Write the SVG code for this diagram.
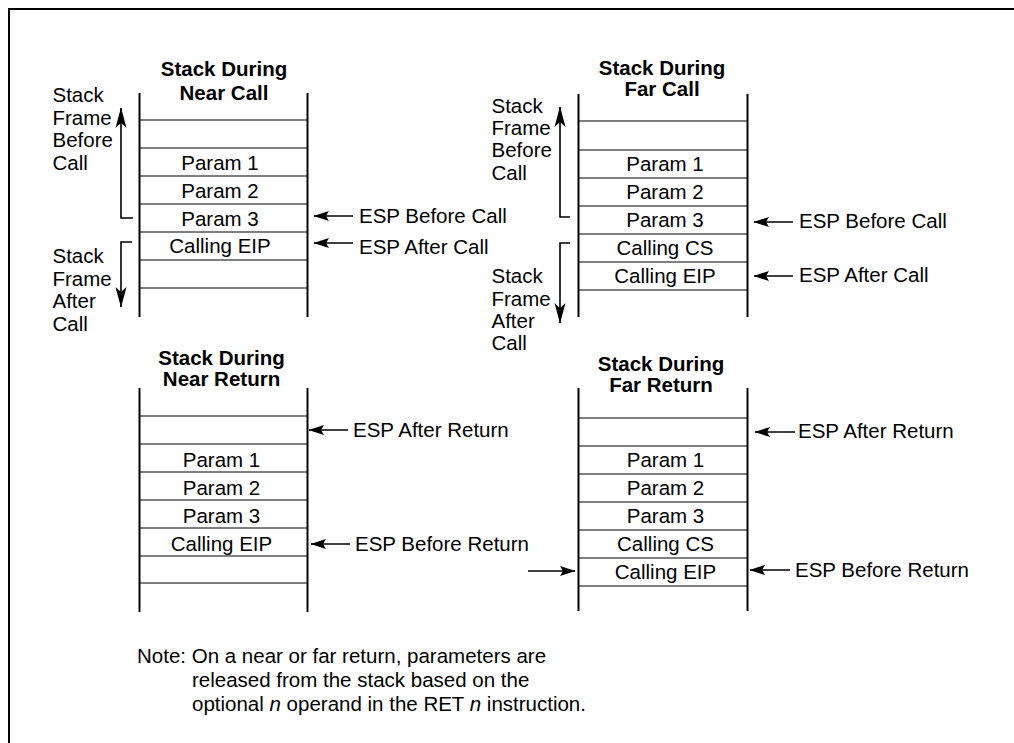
<svg xmlns="http://www.w3.org/2000/svg" width="1014" height="743" viewBox="0 0 1014 743">
<style>
.t{font-family:"Liberation Sans",Arial,Helvetica,sans-serif;font-size:20.5px;fill:#000}
.b{font-weight:bold}
.c{text-anchor:middle}
.col{stroke:#000;stroke-width:2;fill:none}
.row{stroke:#000;stroke-width:1.2;fill:none}
.ah{stroke:#000;stroke-width:1.3;fill:none;marker-end:url(#mh)}
.av{stroke:#000;stroke-width:1.6;fill:none;marker-end:url(#mv)}
</style>
<defs>
<marker id="mh" markerUnits="userSpaceOnUse" viewBox="-16 -6 17 12" refX="0" refY="0" markerWidth="17" markerHeight="12" orient="auto"><path d="M0.5,0 L-15,-5 L-12,0 L-15,5 Z" fill="#000"/></marker>
<marker id="mv" markerUnits="userSpaceOnUse" viewBox="-21 -7 22 14" refX="0" refY="0" markerWidth="22" markerHeight="14" orient="auto"><path d="M0.5,0 L-20,-5.5 L-15,0 L-20,5.5 Z" fill="#000"/></marker>
</defs>
<rect width="1014" height="743" fill="#fff"/>
<rect x="9" y="9" width="1010" height="740" fill="none" stroke="#000" stroke-width="2"/>

<g id="near-call">
<text class="t b c" x="224" y="76">Stack During</text>
<text class="t b c" x="224" y="100">Near Call</text>
<path class="col" d="M139.5,93 V317 M307.5,93 V317"/>
<path class="row" d="M139,120 H308 M139,148 H308 M139,176 H308 M139,204 H308 M139,232 H308 M139,260 H308 M139,288 H308"/>
<text class="t c" x="220" y="170">Param 1</text>
<text class="t c" x="220" y="198">Param 2</text>
<text class="t c" x="220" y="226">Param 3</text>
<text class="t c" x="220" y="253">Calling EIP</text>
<text class="t" x="52.5" y="102">Stack</text>
<text class="t" x="52.5" y="125">Frame</text>
<text class="t" x="52.5" y="147">Before</text>
<text class="t" x="52.5" y="170">Call</text>
<text class="t" x="52.5" y="263">Stack</text>
<text class="t" x="52.5" y="285.5">Frame</text>
<text class="t" x="52.5" y="308">After</text>
<text class="t" x="52.5" y="331">Call</text>
<text class="t" x="359" y="223">ESP Before Call</text>
<text class="t" x="359" y="254">ESP After Call</text>
</g>

<g id="far-call">
<text class="t b c" x="662" y="75">Stack During</text>
<text class="t b c" x="662" y="96">Far Call</text>
<path class="col" d="M578.5,94 V317 M747.5,94 V317"/>
<path class="row" d="M578,121 H748 M578,150 H748 M578,178 H748 M578,206 H748 M578,234 H748 M578,262 H748 M578,290 H748"/>
<text class="t c" x="665" y="171">Param 1</text>
<text class="t c" x="665" y="199">Param 2</text>
<text class="t c" x="665" y="227">Param 3</text>
<text class="t c" x="665" y="255">Calling CS</text>
<text class="t c" x="665" y="283">Calling EIP</text>
<text class="t" x="491.5" y="113">Stack</text>
<text class="t" x="491.5" y="135">Frame</text>
<text class="t" x="491.5" y="157">Before</text>
<text class="t" x="491.5" y="180">Call</text>
<text class="t" x="491.5" y="283">Stack</text>
<text class="t" x="491.5" y="305.5">Frame</text>
<text class="t" x="491.5" y="328">After</text>
<text class="t" x="491.5" y="350">Call</text>
<text class="t" x="799" y="228">ESP Before Call</text>
<text class="t" x="799" y="282">ESP After Call</text>
</g>

<g id="near-return">
<text class="t b c" x="221.5" y="365">Stack During</text>
<text class="t b c" x="221.5" y="386">Near Return</text>
<path class="col" d="M139.5,388 V612 M307.5,388 V612"/>
<path class="row" d="M139,416 H308 M139,444 H308 M139,472 H308 M139,500 H308 M139,528 H308 M139,556 H308 M139,583 H308"/>
<text class="t c" x="221.5" y="467">Param 1</text>
<text class="t c" x="221.5" y="495">Param 2</text>
<text class="t c" x="221.5" y="523">Param 3</text>
<text class="t c" x="221.5" y="551">Calling EIP</text>
<text class="t" x="353" y="437">ESP After Return</text>
<text class="t" x="355" y="551">ESP Before Return</text>
</g>

<g id="far-return">
<text class="t b c" x="661" y="371">Stack During</text>
<text class="t b c" x="661" y="392">Far Return</text>
<path class="col" d="M578.5,388 V611 M747.5,388 V611"/>
<path class="row" d="M578,418 H748 M578,446 H748 M578,474 H748 M578,502 H748 M578,530 H748 M578,558 H748 M578,586 H748"/>
<text class="t c" x="665.5" y="467">Param 1</text>
<text class="t c" x="665.5" y="495">Param 2</text>
<text class="t c" x="665.5" y="523">Param 3</text>
<text class="t c" x="665.5" y="551">Calling CS</text>
<text class="t c" x="665.5" y="579">Calling EIP</text>
<text class="t" x="798" y="438">ESP After Return</text>
<text class="t" x="795" y="577">ESP Before Return</text>
</g>

<g id="note">
<text class="t" x="137" y="663">Note: On a near or far return, parameters are</text>
<text class="t" x="192" y="687">released from the stack based on the</text>
<text class="t" x="192" y="711">optional <tspan font-style="italic">n</tspan> operand in the RET <tspan font-style="italic">n</tspan> instruction.</text>
</g>

<g id="connectors">
<path class="av" d="M133,218 H121 V108"/>
<path class="av" d="M132,242 H121 V307"/>
<path class="av" d="M570,217 H560 V107"/>
<path class="av" d="M570,243 H560 V323"/>
<path class="ah" d="M353,216 H314"/>
<path class="ah" d="M353,243 H314"/>
<path class="ah" d="M793,222 H754"/>
<path class="ah" d="M793,276 H754"/>
<path class="ah" d="M348,430 H309"/>
<path class="ah" d="M350,544 H311"/>
<path class="ah" d="M795,432 H755"/>
<path class="ah" d="M790,570 H750"/>
<path class="ah" d="M528,571 H575"/>
</g>
</svg>
